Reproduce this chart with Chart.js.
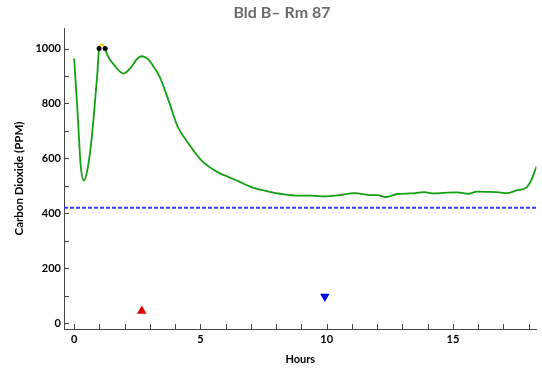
<!DOCTYPE html>
<html>
<head>
<meta charset="utf-8">
<script src="https://cdn.jsdelivr.net/npm/chart.js@4"></script>
<style>
  html, body { margin: 0; padding: 0; background: #fff; }
  #wrap { width: 542px; height: 368px; }
</style>
</head>
<body>
<div id="wrap"><canvas id="grafico"></canvas></div>
<script>
// dados
const horas = [0, 0.13, 0.26, 0.39, 0.52, 0.65, 0.79, 0.92, 0.99, 1.1, 1.23, 1.31, 1.57, 1.96, 2.23, 2.49, 2.68, 2.95,
  3.14, 3.38, 3.77, 4.1, 4.56, 5.08, 5.74, 6.06, 6.52, 7.05, 7.7, 8.22, 8.88, 9.4, 9.93, 10.45, 11.1, 11.76, 12.0,
  12.35, 12.8, 13.33, 13.86, 14.25, 14.64, 15.17, 15.63, 15.95, 16.74, 17.13, 17.52, 17.92, 18.11, 18.31];
const co2 = [964, 780, 575, 519, 555, 635, 765, 910, 1000, 1015, 1000, 978, 942, 909, 929, 962, 972, 960,
  935, 899, 803, 716, 650, 589, 547, 534, 516, 494, 479, 470, 464, 464, 461, 465, 473, 466, 466,
  459, 470, 472, 477, 472, 474, 476, 471, 479, 477, 473, 483, 494, 522, 570];
const limite = 420;
const cruzamentos = [[0.99, 1000], [1.23, 1000]];
const marcaSubida = [[2.68, 44]];
const marcaDescida = [[9.93, 96]];
const xMin = -0.4, xMax = 18.31;
const yMin = -22, yMax = 1075;

const pontos = arr => arr.map(p => ({x: p[0], y: p[1]}));
const fonteBold = {family: 'Lato', size: 11, weight: 'bold'};

// título desenhado à parte
const tituloPlugin = {
  id: 'titulo',
  afterDraw(chart) {
    const c = chart.ctx;
    c.save();
    c.font = 'bold 16px Lato';
    c.fillStyle = '#6b6b6b';
    c.textAlign = 'center';
    c.textBaseline = 'middle';
    c.fillText('Bld B\u2013 Rm 87', 282, 13);
    c.restore();
  }
};

// marcas dos eixos para dentro do gráfico
const marcasPlugin = {
  id: 'marcas',
  afterDraw(chart) {
    const c = chart.ctx, a = chart.chartArea;
    const sx = chart.scales.x, sy = chart.scales.y;
    c.save();
    c.strokeStyle = '#444';
    c.lineWidth = 1;
    c.beginPath();
    sx.ticks.forEach(t => {
      const px = Math.round(sx.getPixelForValue(t.value)) + 0.5;
      c.moveTo(px, a.bottom);
      c.lineTo(px, a.bottom - 5);
    });
    sy.ticks.forEach(t => {
      const py = Math.round(sy.getPixelForValue(t.value)) + 0.5;
      c.moveTo(a.left, py);
      c.lineTo(a.left + 5, py);
    });
    c.stroke();
    c.restore();
  }
};

new Chart(document.getElementById('grafico'), {
  type: 'line',
  data: {
    datasets: [
      {
        data: horas.map((h, i) => ({x: h, y: co2[i]})),
        borderColor: '#12a012',
        borderWidth: 1.8,
        pointRadius: 0,
        cubicInterpolationMode: 'monotone',
        segment: {
          borderColor: c => (c.p0.parsed.y >= 1000 && c.p1.parsed.y >= 1000) ? '#f2c200' : undefined
        },
        order: 2
      },
      {
        data: [{x: xMin, y: limite}, {x: xMax, y: limite}],
        borderColor: '#3b3bff',
        borderWidth: 2,
        borderDash: [4, 2],
        pointRadius: 0,
        order: 3
      },
      {
        data: pontos(cruzamentos),
        showLine: false,
        pointRadius: 2.5,
        pointBackgroundColor: '#000',
        pointBorderWidth: 0,
        order: 1
      },
      {
        data: pontos(marcaSubida),
        showLine: false,
        pointStyle: 'triangle',
        pointRadius: 5.5,
        pointBackgroundColor: '#dd0000',
        pointBorderWidth: 0,
        order: 1
      },
      {
        data: pontos(marcaDescida),
        showLine: false,
        pointStyle: 'triangle',
        pointRotation: 180,
        pointRadius: 5.5,
        pointBackgroundColor: '#0000dd',
        pointBorderWidth: 0,
        order: 1
      }
    ]
  },
  options: {
    responsive: true,
    maintainAspectRatio: false,
    animation: false,
    layout: {padding: {top: 28, right: 2, left: 0, bottom: 0}},
    plugins: {
      legend: {display: false},
      tooltip: {enabled: false}
    },
    scales: {
      x: {
        type: 'linear',
        min: xMin,
        max: xMax,
        afterFit: s => { s.height = 39; },
        border: {color: '#444', width: 1},
        grid: {display: false, drawTicks: false},
        ticks: {
          stepSize: 1,
          includeBounds: false,
          autoSkip: false,
          maxRotation: 0,
          padding: 4,
          color: '#000',
          font: fonteBold,
          callback: v => (v % 5 === 0 ? v : '')
        },
        title: {display: true, text: 'Hours', color: '#000', font: fonteBold, padding: {top: 0, bottom: 1.5}}
      },
      y: {
        type: 'linear',
        min: yMin,
        max: yMax,
        afterFit: s => { s.width = 64; },
        border: {color: '#444', width: 1},
        grid: {display: false, drawTicks: false},
        ticks: {
          stepSize: 50,
          includeBounds: false,
          padding: 3,
          color: '#000',
          font: fonteBold,
          callback: v => (v % 200 === 0 ? v : '')
        },
        title: {display: true, text: 'Carbon Dioxide (PPM)', color: '#000',
          font: {family: 'Lato', size: 11.5, weight: 'bold'}, padding: {top: 12.2, bottom: 0}}
      }
    }
  },
  plugins: [marcasPlugin, tituloPlugin]
});
</script>
</body>
</html>
